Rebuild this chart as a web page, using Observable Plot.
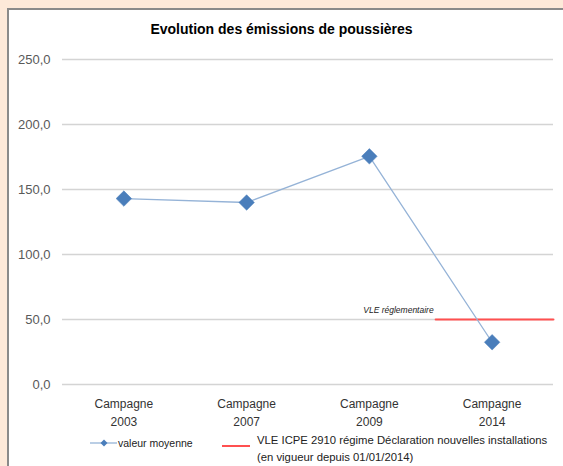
<!DOCTYPE html>
<html>
<head>
<meta charset="utf-8">
<script src="https://cdn.jsdelivr.net/npm/d3@7"></script>
<script src="https://cdn.jsdelivr.net/npm/@observablehq/plot@0.6"></script>
<style>
  html, body { margin: 0; padding: 0; }
  body { width: 563px; height: 466px; background: #fde9d9; position: relative; overflow: hidden; font-family: "Liberation Sans", Arial, sans-serif; }
  #box { position: absolute; left: 7px; top: 8px; width: 600px; height: 500px; background: #fff; border: 2px solid #8a8a8a; box-sizing: border-box; }
  #title { position: absolute; left: 0; width: 563px; top: 21px; text-align: center; font-weight: bold; font-size: 14px; color: #000; }
  #chart { position: absolute; left: 0; top: 0; }
  #legend { position: absolute; left: 0; top: 0; width: 563px; height: 466px; font-size: 10.5px; color: #222; }
  .abs { position: absolute; white-space: nowrap; }
</style>
</head>
<body>
<div id="box"></div>
<div id="title">Evolution des émissions de poussières</div>
<div id="chart"></div>
<div id="legend"></div>
<script>
const campaigns = ["Campagne\n2003", "Campagne\n2007", "Campagne\n2009", "Campagne\n2014"];
const valeurMoyenne = [143, 140, 175.5, 32.5];
const yTicks = [0, 50, 100, 150, 200, 250];
const vleValue = 50;
const vleFrom = 3.54;   // starts between Campagne 2009 and Campagne 2014
const vleTo = 4.5;
const seriesLabel = "valeur moyenne";
const vleLabel = ["VLE ICPE 2910 régime Déclaration nouvelles installations", "(en vigueur depuis 01/01/2014)"];
const vleNote = "VLE réglementaire";

const points = campaigns.map((c, i) => ({idx: i + 1, label: c, value: valeurMoyenne[i]}));
const vleLine = [{x: vleFrom, y: vleValue}, {x: vleTo, y: vleValue}];

const fmt = d => d.toFixed(1).replace(".", ",");

const plot = Plot.plot({
  width: 563,
  height: 430,
  marginLeft: 62,
  marginRight: 10,
  marginTop: 59,
  marginBottom: 46,
  style: {background: "transparent", fontFamily: "Liberation Sans, Arial, sans-serif", fontSize: "13px", color: "#595959"},
  x: {domain: [0.5, 4.5], axis: null},
  y: {domain: [0, 250], ticks: yTicks, tickFormat: fmt, tickSize: 0, tickPadding: 12, label: null},
  marks: [
    Plot.ruleY(yTicks, {stroke: "#d4d4d4", strokeWidth: 1.5}),
    Plot.line(vleLine, {x: "x", y: "y", stroke: "#ff5050", strokeWidth: 2}),
    Plot.text([vleLine[0]], {x: "x", y: "y", text: () => vleNote, textAnchor: "end", dy: -9, dx: -2, fontStyle: "italic", fontSize: 8.5, fill: "#222"}),
    Plot.line(points, {x: "idx", y: "value", stroke: "#95b3d7", strokeWidth: 1.3}),
    Plot.dot(points, {x: "idx", y: "value", symbol: "diamond2", r: 7, fill: "#4a7ebb", stroke: "#4a7ebb", strokeWidth: 0.5}),
    Plot.text(points, {x: "idx", y: () => 0, text: "label", dy: 27, fontSize: 12, fill: "#333", lineHeight: 1.45})
  ]
});
document.getElementById("chart").appendChild(plot);

const legend = document.getElementById("legend");
legend.innerHTML = `
  <svg class="abs" style="left:90px; top:436px" width="27" height="14"><line x1="0" y1="7" x2="27" y2="7" stroke="#95b3d7" stroke-width="1.3"/><path d="M14,3.5 L17.5,7 L14,10.5 L10.5,7 Z" fill="#4a7ebb"/></svg>
  <div class="abs" style="left:118px; top:436px; line-height:14px">${seriesLabel}</div>
  <svg class="abs" style="left:222px; top:439px" width="28" height="14"><line x1="0" y1="7" x2="28" y2="7" stroke="#ff5050" stroke-width="2"/></svg>
  <div class="abs" style="left:257px; top:432px; line-height:17px; font-size:11.3px">${vleLabel[0]}<br>${vleLabel[1]}</div>`;
</script>
</body>
</html>
